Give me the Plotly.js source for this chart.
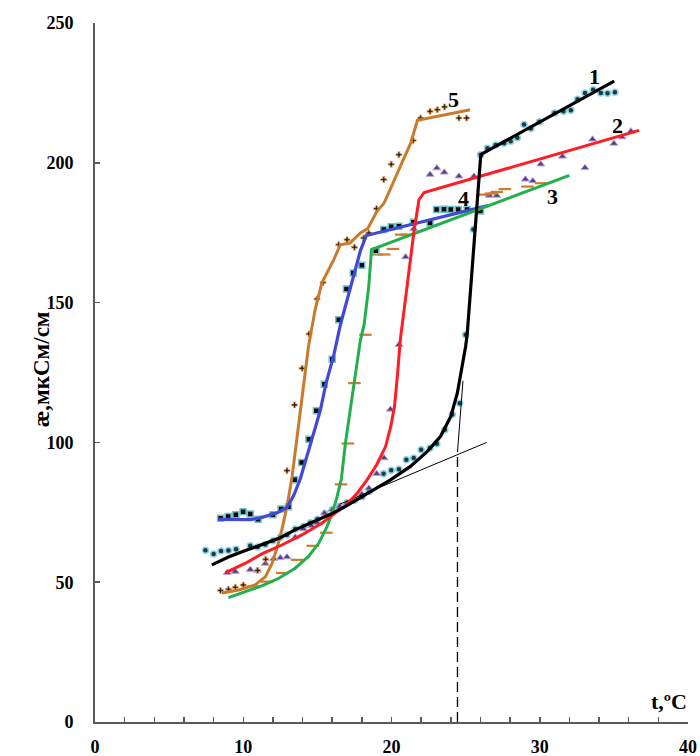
<!DOCTYPE html>
<html><head><meta charset="utf-8">
<script src="https://cdn.plot.ly/plotly-3.0.1.min.js"></script>
<style>html,body{margin:0;padding:0;background:#fff}#chart{width:700px;height:756px}</style>
</head><body><div id="chart"></div><script>
// ---- fitted curves ----
var fit1X = [7.88, 9.0, 10.15, 11.25, 12.4, 13.5, 14.65, 15.8, 16.9, 18.0, 19.0, 19.93, 21.28, 22.4, 23.3, 24.0, 24.44, 24.78, 25.0, 25.11, 25.34, 25.56, 25.79, 26.01, 26.13, 35.02];
var fit1Y = [56.2, 59, 61.3, 63.4, 65.7, 68.7, 71.3, 74.1, 77.1, 80.6, 83.6, 86.6, 91.4, 96.7, 102.1, 109.3, 117.6, 127.2, 134.3, 139, 155.8, 172.5, 186.8, 202, 203.3, 229.2];
var fit2X = [8.8, 10.15, 11.25, 12.6, 13.95, 15.3, 16.2, 16.9, 17.7, 18.35, 19.0, 19.6, 19.95, 20.2, 20.4, 20.6, 21.05, 21.5, 21.85, 22.2, 36.7];
var fit2Y = [53.4, 56.8, 60.1, 63.3, 66.9, 71.1, 74.7, 77.3, 81.9, 86.6, 92, 98.5, 105.7, 112.8, 124, 137, 155.8, 174.9, 186.8, 189.4, 211.6];
var fit3X = [9.0, 10.1, 11.25, 12.4, 13.5, 14.4, 15.1, 15.65, 16.0, 16.33, 16.62, 16.9, 17.23, 17.57, 17.9, 18.15, 18.47, 18.65, 32.0];
var fit3Y = [44.5, 46.6, 48.7, 51.4, 55, 59.2, 64, 69.9, 74.7, 80.6, 87, 100, 112.8, 124.5, 136.5, 142, 156, 169, 195.5];
var fit4X = [8.33, 9.5, 10.5, 11.15, 11.8, 12.3, 12.95, 13.4, 13.85, 14.3, 14.7, 15.2, 15.6, 16.1, 16.55, 17.0, 17.45, 17.9, 18.3, 26.5];
var fit4Y = [72.5, 72.3, 72.4, 73.0, 74.0, 74.8, 76.8, 81, 87, 95, 103, 111.5, 121.5, 131, 142, 151, 160.5, 168.5, 174, 184.7];
var fit5X = [8.56, 9.7, 10.8, 11.5, 11.95, 12.3, 12.6, 12.95, 13.3, 13.65, 14.0, 14.4, 14.85, 15.3, 16.1, 16.55, 17.2, 17.9, 18.4, 19.0, 19.5, 20.6, 21.3, 21.75, 25.3];
var fit5Y = [46.1, 47.2, 49.0, 52.0, 56.8, 62.7, 68.7, 77, 88, 103, 117.6, 134.3, 147.5, 157, 165.3, 170.7, 171.3, 174.9, 176.5, 182.5, 185.6, 198.8, 207.1, 215.2, 219.0];

// ---- measured points ----
var pts1X = [7.45, 8.0, 8.5, 9.0, 9.52, 10.47, 10.97, 11.49, 12.0, 12.5, 12.95, 13.51, 14.06, 14.53, 15.0, 15.52, 16.0, 16.5, 17.0, 17.5, 18.02, 18.5, 19.46, 19.98, 20.5, 21.0, 21.5, 22.0, 22.6, 23.06, 23.6, 24.1, 24.6, 25.0, 25.52, 26.01, 26.47, 27.03, 27.6, 28.04, 28.49, 28.94, 29.4, 29.98, 31.0, 31.6, 32.1, 32.55, 33.05, 33.6, 34.12, 34.57, 35.07];
var pts1Y = [61.4, 60.1, 61.2, 61.3, 61.8, 63, 62.6, 63.5, 64.8, 66.1, 66.9, 69, 69.9, 71.3, 72.5, 74.6, 75.9, 77.2, 78.3, 79.3, 80.6, 82.5, 88.8, 90, 90.4, 93.8, 94.4, 97.4, 98, 99.5, 104.5, 110, 114, 138.5, 176.1, 202.9, 205.2, 206.4, 207, 207.7, 209, 213.7, 212.3, 214.7, 217.8, 218.4, 218.8, 222.7, 225, 226.1, 225, 224.9, 225.2];
var pts2X = [8.92, 9.46, 10.47, 10.95, 11.49, 12.05, 12.5, 12.95, 13.51, 14.06, 14.6, 14.98, 15.47, 16.0, 16.5, 17.0, 17.45, 18.0, 18.47, 19.0, 19.5, 19.93, 20.5, 20.95, 21.5, 22.6, 23.06, 23.56, 24.55, 25.56, 26.6, 27.1, 29.03, 29.53, 30.07, 31.53, 33.05, 33.56, 35.0, 35.55, 36.15];
var pts2Y = [53.4, 53.8, 54.5, 54.2, 56.7, 58.4, 58.7, 59.0, 66.1, 69, 70.2, 71.3, 74.7, 75.9, 77.1, 78.3, 79.5, 81.5, 83.6, 88.8, 94.4, 111.8, 134.9, 166.3, 176.4, 195.8, 198.1, 196.6, 195.2, 195.2, 188.3, 188.3, 194.1, 193.5, 199.5, 202.3, 198.2, 208.4, 206.9, 209.2, 211.3];
var pts3X = [10.7, 11.62, 12.63, 13.63, 14.7, 15.6, 16.6, 17.06, 17.5, 18.24, 19.0, 19.5, 20.1, 20.65, 21.0, 26.2, 26.7, 27.1, 27.65, 29.17, 30.1];
var pts3Y = [48.5, 50.2, 53.3, 58, 63, 67.7, 85, 99.6, 121.2, 138.5, 167.2, 167.2, 169.2, 174.3, 174.3, 188.6, 189, 189.6, 190.6, 191.5, 192.7];
var pts4X = [8.47, 8.98, 9.5, 9.99, 10.47, 11.0, 12.0, 12.55, 13.05, 13.47, 13.94, 14.43, 14.93, 15.47, 16.0, 16.44, 16.96, 17.42, 18.0, 18.95, 19.48, 19.98, 20.5, 21.48, 22.6, 23.04, 23.54, 24.0, 24.5, 25.1, 26.0];
var pts4Y = [72.9, 73.5, 74.1, 75.2, 74.4, 72.5, 74.1, 76.2, 77, 86.6, 92.8, 101.1, 111.3, 120.8, 129.7, 143.9, 154.9, 160.6, 163.4, 168.5, 176.1, 177.1, 177.3, 178.7, 178.5, 183.3, 183.4, 183.3, 183.3, 183.3, 182.8];
var pts5X = [8.47, 9.0, 9.46, 10.0, 10.97, 11.52, 12.95, 13.46, 13.97, 14.44, 14.98, 15.38, 16.44, 17.0, 17.5, 18.13, 18.47, 18.99, 19.48, 19.98, 20.5, 21.46, 21.96, 22.6, 23.09, 23.58, 24.55, 25.07];
var pts5Y = [47.0, 47.5, 48.2, 49.0, 54.2, 58.2, 89.9, 113.4, 126.5, 138.8, 151.3, 157.2, 170.7, 172.5, 169.8, 173.1, 174.9, 183.6, 194, 199.5, 202.9, 208, 216, 218.4, 219, 220, 216, 216];

// ---- construction lines (curve 1) ----
var tangentX = [16.5, 26.42];
var tangentY = [77.9, 100];
var steepX = [24.45, 24.82];
var steepY = [96.5, 122];
var dropX = [24.45, 24.45];
var dropY = [0, 97];

// ---- curve numbers ----
var curveLabels = ['1', '2', '3', '4', '5'];
var labelX = [33.67, 35.25, 30.86, 24.89, 24.2];
var labelY = [231, 213.3, 188, 187.4, 222.6];

var xTicks = [0, 10, 20, 30, 40];
var yTicks = [0, 50, 100, 150, 200, 250];
var yTitle = 'æ,мкСм/см';
var xTitle = 't,ºC';

var FONT = 'Liberation Serif, Times New Roman, serif';

function pts(x, y, sym, size, color, lineColor, lw) {
  return {x: x, y: y, mode: 'markers', type: 'scatter', hoverinfo: 'skip',
    marker: {symbol: sym, size: size, color: color, line: {color: lineColor, width: lw}}};
}
function fit(x, y, color, w) {
  return {x: x, y: y, mode: 'lines', type: 'scatter', hoverinfo: 'skip',
    line: {color: color, width: w}};
}

var traces = [
  pts(pts1X, pts1Y, 'circle', 6, '#1b3c44', '#8fd4e4', 1.5),
  pts(pts2X, pts2Y, 'triangle-up', 7, '#5a3f80', '#b9a7da', 1),
  pts(pts3X, pts3Y, 'line-ew', 9, '#d07a2c', '#d07a2c', 2.2),
  pts(pts4X, pts4Y, 'square', 6, '#0b0b0b', '#6fc4cc', 1.5),
  pts(pts5X, pts5Y, 'cross', 5, '#3a2008', '#eab07a', 0.8),
  {x: tangentX, y: tangentY, mode: 'lines', type: 'scatter', hoverinfo: 'skip', line: {color: '#000', width: 1}},
  {x: steepX, y: steepY, mode: 'lines', type: 'scatter', hoverinfo: 'skip', line: {color: '#000', width: 1}},
  {x: dropX, y: dropY, mode: 'lines', type: 'scatter', hoverinfo: 'skip', line: {color: '#000', width: 1.3, dash: '10px,5px'}},
  fit(fit5X, fit5Y, '#c97b2b', 3),
  fit(fit4X, fit4Y, '#4149d6', 3.2),
  fit(fit3X, fit3Y, '#23b04c', 3),
  fit(fit2X, fit2Y, '#ff1c24', 3),
  fit(fit1X, fit1Y, '#000000', 3.2)
];

var annotations = curveLabels.map(function (t, i) {
  return {x: labelX[i], y: labelY[i], xref: 'x', yref: 'y', text: t, showarrow: false,
    font: {family: FONT, size: 22, color: '#000', weight: 700}};
});
annotations.push({x: 38.7, y: 7.5, xref: 'x', yref: 'y', text: xTitle, showarrow: false,
  font: {family: FONT, size: 22, color: '#000', weight: 700}});
annotations.push({x: -0.115, y: 0.505, xref: 'paper', yref: 'paper', text: yTitle, textangle: -90,
  showarrow: false, font: {family: FONT, size: 23, color: '#000', weight: 700}});

var layout = {
  width: 700, height: 756,
  margin: {l: 95, r: 12, t: 23, b: 34},
  paper_bgcolor: '#fff', plot_bgcolor: '#fff',
  showlegend: false,
  font: {family: FONT, size: 18, color: '#000', weight: 700},
  xaxis: {range: [0, 40], tickvals: xTicks, ticktext: xTicks.map(String), showgrid: false, zeroline: false,
    showline: true, linecolor: '#5a5a5a', linewidth: 2, ticks: 'inside', ticklen: 5, tickwidth: 1.5, tickcolor: '#5a5a5a',
    minor: {dtick: 2, ticks: 'inside', ticklen: 5, tickwidth: 1.5, tickcolor: '#5a5a5a'},
    ticklabelstandoff: 7, tickfont: {family: FONT, size: 18, color: '#000', weight: 700}},
  yaxis: {range: [0, 250], tickvals: yTicks, ticktext: yTicks.map(String), showgrid: false, zeroline: false,
    showline: true, linecolor: '#5a5a5a', linewidth: 2, ticks: 'inside', ticklen: 5, tickwidth: 1.5, tickcolor: '#5a5a5a',
    ticklabelstandoff: 16, tickfont: {family: FONT, size: 18, color: '#000', weight: 700}},
  annotations: annotations
};

Plotly.newPlot('chart', traces, layout, {displayModeBar: false, staticPlot: true});
</script></body></html>
